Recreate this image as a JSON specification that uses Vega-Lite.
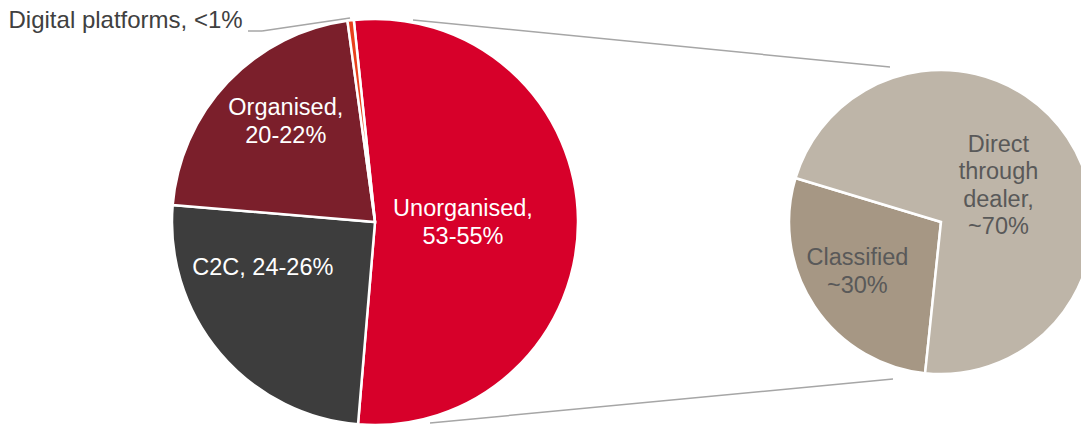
{
  "$schema": "https://vega.github.io/schema/vega-lite/v6.json",
  "width": 1081,
  "height": 404,
  "autosize": {"type": "none"},
  "padding": {"left": 0, "top": 20, "right": 0, "bottom": 0},
  "background": "white",
  "config": {"view": {"stroke": null}, "text": {"font": "Liberation Sans"}},
  "layer": [
    {
      "data": {"values": [{}]},
      "mark": {"type": "rule", "color": "#A6A6A6", "strokeWidth": 1.5},
      "encoding": {"x": {"value": 248}, "y": {"value": 11}, "x2": {"value": 262}, "y2": {"value": 11}}
    },
    {
      "data": {"values": [{}]},
      "mark": {"type": "rule", "color": "#A6A6A6", "strokeWidth": 1.5},
      "encoding": {"x": {"value": 262}, "y": {"value": 11}, "x2": {"value": 350}, "y2": {"value": -2}}
    },
    {
      "data": {"values": [{}]},
      "mark": {"type": "rule", "color": "#A6A6A6", "strokeWidth": 1.5},
      "encoding": {"x": {"value": 413}, "y": {"value": 0}, "x2": {"value": 890}, "y2": {"value": 47}}
    },
    {
      "data": {"values": [{}]},
      "mark": {"type": "rule", "color": "#A6A6A6", "strokeWidth": 1.5},
      "encoding": {"x": {"value": 430}, "y": {"value": 403}, "x2": {"value": 893}, "y2": {"value": 359}}
    },
    {
      "data": {
        "values": [
          {"pie": "Used car market", "segment": "Unorganised", "share": 53, "label": "Unorganised,\n53-55%", "k": 1},
          {"pie": "Used car market", "segment": "C2C", "share": 25, "label": "C2C, 24-26%", "k": 2},
          {"pie": "Used car market", "segment": "Organised", "share": 21.5, "label": "Organised,\n20-22%", "k": 3},
          {"pie": "Used car market", "segment": "Digital platforms", "share": 0.5, "label": "Digital platforms, <1%", "k": 4}
        ]
      },
      "encoding": {
        "x": {"field": "pie", "type": "nominal", "scale": {"type": "point", "padding": 0, "domain": ["Used car market", "Organised dealers"], "range": [375, 941]}, "axis": null},
        "theta": {"field": "share", "type": "quantitative", "stack": true, "scale": {"range": [-0.1047, 6.1785]}},
        "order": {"field": "k", "type": "quantitative"}
      },
      "layer": [
        {
          "mark": {"type": "arc", "outerRadius": 203, "stroke": "white", "strokeWidth": 2.5},
          "encoding": {
            "color": {"field": "segment", "type": "nominal", "legend": null,
              "scale": {"domain": ["Unorganised", "C2C", "Organised", "Digital platforms", "Classified", "Direct through dealer"],
                        "range": ["#D7002A", "#3D3D3D", "#7B1F2B", "#E8401C", "#A69784", "#BEB5A8"]}}
          }
        },
        {
          "mark": {"type": "text", "radius": 88, "dy": -12, "fontSize": 23.5, "color": "white", "align": "center", "baseline": "middle", "lineBreak": "\n", "lineHeight": 27.5},
          "encoding": {"text": {"condition": {"test": "datum.segment === 'Unorganised'", "field": "label"}, "value": ""}}
        },
        {
          "mark": {"type": "text", "radius": 134, "dx": 8, "dy": -22, "fontSize": 23.5, "color": "white", "align": "center", "baseline": "middle", "lineBreak": "\n", "lineHeight": 28},
          "encoding": {"text": {"condition": {"test": "datum.segment === 'Organised'", "field": "label"}, "value": ""}}
        },
        {
          "mark": {"type": "text", "radius": 122, "dx": -19, "dy": -33, "fontSize": 23.5, "color": "white", "align": "center", "baseline": "middle", "lineBreak": "\n", "lineHeight": 27.5},
          "encoding": {"text": {"condition": {"test": "datum.segment === 'C2C'", "field": "label"}, "value": ""}}
        },
        {
          "mark": {"type": "text", "radius": 203, "dx": -108, "dy": 1, "fontSize": 24, "color": "#404040", "align": "right", "baseline": "middle"},
          "encoding": {"text": {"condition": {"test": "datum.segment === 'Digital platforms'", "field": "label"}, "value": ""}}
        }
      ]
    },
    {
      "data": {
        "values": [
          {"pie": "Organised dealers", "segment": "Classified", "share": 28, "label": "Classified\n~30%", "k": 1},
          {"pie": "Organised dealers", "segment": "Direct through dealer", "share": 72, "label": "Direct\nthrough\ndealer,\n~70%", "k": 2}
        ]
      },
      "encoding": {
        "x": {"field": "pie", "type": "nominal", "scale": {"type": "point", "padding": 0, "domain": ["Used car market", "Organised dealers"], "range": [375, 941]}, "axis": null},
        "theta": {"field": "share", "type": "quantitative", "stack": true, "scale": {"range": [3.2463, 9.5295]}},
        "order": {"field": "k", "type": "quantitative"}
      },
      "layer": [
        {
          "mark": {"type": "arc", "outerRadius": 152, "stroke": "white", "strokeWidth": 2.5},
          "encoding": {
            "color": {"field": "segment", "type": "nominal", "legend": null,
              "scale": {"domain": ["Unorganised", "C2C", "Organised", "Digital platforms", "Classified", "Direct through dealer"],
                        "range": ["#D7002A", "#3D3D3D", "#7B1F2B", "#E8401C", "#A69784", "#BEB5A8"]}}
          }
        },
        {
          "mark": {"type": "text", "radius": 69, "dy": -39, "fontSize": 23.5, "color": "#595959", "align": "center", "baseline": "middle", "lineBreak": "\n", "lineHeight": 27.5},
          "encoding": {"text": {"condition": {"test": "datum.segment === 'Direct through dealer'", "field": "label"}, "value": ""}}
        },
        {
          "mark": {"type": "text", "radius": 98, "dx": -2, "dy": -18, "fontSize": 23.5, "color": "#595959", "align": "center", "baseline": "middle", "lineBreak": "\n", "lineHeight": 28},
          "encoding": {"text": {"condition": {"test": "datum.segment === 'Classified'", "field": "label"}, "value": ""}}
        }
      ]
    }
  ],
  "resolve": {"scale": {"theta": "independent"}}
}
